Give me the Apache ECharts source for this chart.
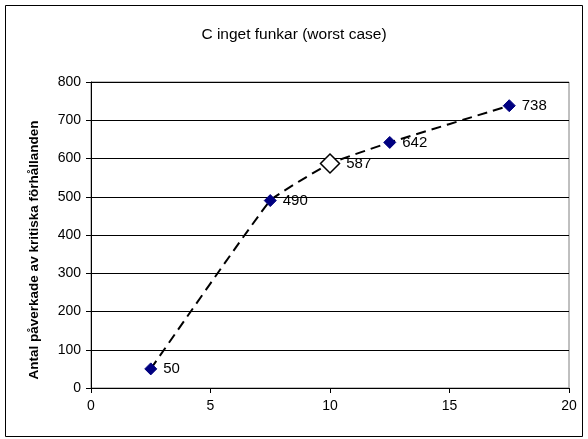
<!DOCTYPE html>
<html><head><meta charset="utf-8">
<script src="https://cdn.jsdelivr.net/npm/echarts@6/dist/echarts.min.js"></script>
<style>html,body{margin:0;padding:0;background:#fff}#c{width:588px;height:439px}</style>
</head><body><div id="c"></div>
<script>
const xValues = [2.5, 7.5, 10, 12.5, 17.5];
const yValues = [50, 490, 587, 642, 738];
const highlightIndex = 2;
const titleText = 'C inget funkar (worst case)';
const yAxisName = 'Antal påverkade av kritiska förhållanden';

const chart = echarts.init(document.getElementById('c'));
const data = xValues.map((x, i) => {
  const d = { value: [x, yValues[i]] };
  if (i === highlightIndex) {
    d.symbolSize = 19;
    d.itemStyle = { color: '#ffffff', borderColor: '#000000', borderWidth: 1.5 };
  }
  return d;
});
const FONT = 'Liberation Sans, Arial';
chart.setOption({
  animation: false,
  backgroundColor: '#ffffff',
  graphic: [
    { type: 'rect', shape: { x: 5.5, y: 5.5, width: 577, height: 431 }, style: { fill: 'none', stroke: '#000', lineWidth: 1 }, z: -1 },
    { type: 'text', x: 34, y: 250, rotation: Math.PI / 2, style: { text: yAxisName, font: 'bold 13.5px ' + FONT, fill: '#000', align: 'center', verticalAlign: 'middle' } }
  ],
  title: { text: titleText, left: 'center', top: 22, textStyle: { fontFamily: FONT, fontSize: 15.5, fontWeight: 'normal', color: '#000' } },
  grid: { left: 91, right: 19, top: 82, bottom: 51, show: true, borderColor: '#808080', borderWidth: 1 },
  xAxis: {
    type: 'value', min: 0, max: 20, interval: 5,
    axisLine: { show: true, onZero: false, lineStyle: { color: '#000', width: 1 } },
    axisTick: { show: true, inside: false, length: 5, lineStyle: { color: '#000' } },
    axisLabel: { fontFamily: FONT, fontSize: 14, color: '#000', margin: 11 },
    splitLine: { show: false }
  },
  yAxis: {
    type: 'value', min: 0, max: 800, interval: 100,
    axisLine: { show: true, lineStyle: { color: '#000', width: 1 } },
    axisTick: { show: true, inside: false, length: 5, lineStyle: { color: '#000' } },
    axisLabel: { fontFamily: FONT, fontSize: 14, color: '#000', margin: 10 },
    splitLine: { show: true, lineStyle: { color: '#000', width: 1 } }
  },
  series: [{
    type: 'line', data: data, smooth: 0.1,
    symbol: 'diamond', symbolSize: 12,
    itemStyle: { color: '#000080', borderColor: '#000080' },
    lineStyle: { color: '#000', width: 2, type: [10, 6] },
    label: { show: true, position: 'right', distance: 6, fontFamily: FONT, fontSize: 15, color: '#000', formatter: p => p.value[1] }
  }]
});
</script></body></html>
